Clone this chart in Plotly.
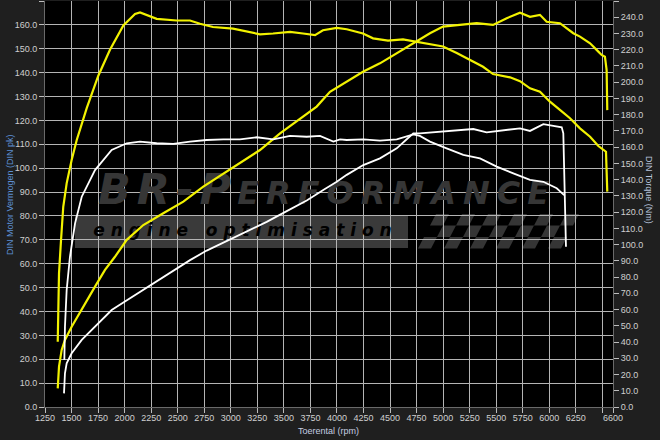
import plotly.graph_objects as go

# ---------------- data ----------------
# Tuned (yellow) power, DIN pk (left axis)
rpm_power_tuned = [1370, 1382, 1407, 1438, 1501, 1596, 1721, 1815, 1909, 2020, 2176, 2364, 2553, 2741,
                   2961, 3150, 3275, 3464, 3652, 3809, 3934, 4092, 4245, 4405, 4563, 4735, 4876, 4999,
                   5187, 5316, 5470, 5599, 5724, 5818, 5912, 5975, 6100, 6226, 6289, 6384, 6462, 6493,
                   6524, 6540, 6546]
power_tuned = [7.8, 16.9, 23.9, 28.1, 33.6, 40.6, 50.4, 57.4, 62.9, 70.0, 76.2, 81.1, 86.0, 92.3,
               98.5, 104.1, 107.6, 114.6, 120.9, 125.8, 132.0, 136.2, 140.4, 143.9, 148.1, 153.0, 156.5, 159.3,
               160.0, 160.7, 160.0, 162.8, 165.1, 163.4, 164.2, 161.3, 160.7, 156.5, 155.1, 152.3, 148.8, 147.4,
               146.7, 141.1, 124.3]

# Tuned (yellow) torque, Nm (right axis)
rpm_torque_tuned = [1370, 1375, 1382, 1401, 1422, 1454, 1501, 1549, 1643, 1752, 1862, 1988, 2098, 2145,
                    2302, 2490, 2616, 2710, 2832, 3021, 3150, 3275, 3398, 3558, 3680, 3793, 3868, 3998,
                    4092, 4245, 4340, 4481, 4622, 4751, 4876, 4999, 5128, 5255, 5376, 5470, 5630, 5724,
                    5818, 5912, 6006, 6100, 6195, 6289, 6384, 6462, 6493, 6534, 6546]
torque_tuned = [40.2, 61.8, 82.3, 102.8, 123.3, 137.7, 152.1, 164.4, 184.0, 204.0, 220.0, 235.0, 242.0, 243.0,
                239.0, 238.0, 238.0, 236.0, 234.0, 233.0, 231.0, 229.5, 230.0, 231.0, 230.0, 229.0, 232.0, 233.5,
                232.6, 230.0, 227.0, 225.6, 226.4, 225.0, 223.5, 222.0, 218.0, 213.7, 209.5, 205.0, 203.0, 200.6,
                196.2, 194.1, 188.0, 182.9, 177.8, 171.6, 166.4, 160.7, 159.3, 157.2, 132.6]

# Stock (white) power, DIN pk (left axis)
rpm_power_stock = [1429, 1438, 1454, 1501, 1596, 1721, 1878, 1988, 2145, 2302, 2458, 2616, 2773, 2961,
                   3150, 3338, 3527, 3715, 3871, 3998, 4092, 4248, 4405, 4563, 4657, 4719, 4781, 4876,
                   5033, 5190, 5284, 5410, 5567, 5724, 5818, 5944, 6038, 6117, 6132, 6145, 6157]
power_stock = [5.7, 14.1, 18.3, 22.5, 28.1, 33.6, 40.6, 43.8, 48.2, 52.5, 57.0, 61.5, 65.5, 69.5,
               73.5, 77.5, 82.0, 86.5, 90.9, 94.3, 97.2, 101.3, 104.1, 108.3, 112.1, 114.6, 114.6, 114.9,
               115.7, 116.0, 116.4, 115.0, 115.7, 116.7, 115.6, 118.4, 117.7, 117.1, 114.6, 90.0, 67.1]

# Stock (white) torque, Nm (right axis)
rpm_torque_stock = [1432, 1438, 1454, 1485, 1533, 1596, 1721, 1878, 2020, 2145, 2302, 2458, 2616, 2773,
                    2929, 3087, 3244, 3400, 3558, 3715, 3840, 3966, 4029, 4092, 4248, 4405, 4563, 4719,
                    4781, 4876, 5033, 5190, 5347, 5505, 5661, 5818, 5944, 6070, 6140]
torque_stock = [28.9, 49.4, 72.0, 92.5, 113.1, 129.5, 145.9, 158.3, 162.4, 163.4, 162.4, 162.0, 163.4, 164.4,
                164.8, 164.8, 166.1, 164.8, 166.9, 166.4, 166.9, 163.4, 164.8, 164.4, 164.8, 164.0, 164.8, 167.9,
                166.9, 163.4, 159.3, 155.2, 153.1, 148.0, 143.9, 139.8, 138.7, 134.7, 130.5]

# Axis ticks
x_tick_values = [1250, 1500, 1750, 2000, 2250, 2500, 2750, 3000, 3250, 3500, 3750, 4000, 4250, 4500,
                 4750, 5000, 5250, 5500, 5750, 6000, 6250, 6500, 6600]
x_tick_labels = ["1250", "1500", "1750", "2000", "2250", "2500", "2750", "3000", "3250", "3500", "3750",
                 "4000", "4250", "4500", "4750", "5000", "5250", "5500", "5750", "6000", "6250", "", "6600"]

YELLOW = "#f2f200"
WHITE = "#ffffff"
FONT = "Liberation Sans, Arial, sans-serif"
TICK_FONT = dict(family=FONT, size=9, color="#cfcfcf")

fig = go.Figure()

# watermark text (drawn first so the curves pass over it)
fig.add_trace(go.Scatter(
    x=[3906], y=[89.5], mode="text",
    text=["<span style='letter-spacing:6px'>BR-P</span>"
          "<span style='font-size:32px;letter-spacing:7px'>ERFORMANCE</span>"],
    hoverinfo="skip", showlegend=False,
    textfont=dict(family="DejaVu Sans", size=43, color="#363636", weight="bold", style="italic")))
fig.add_trace(go.Scatter(
    x=[3110], y=[73.3], mode="text",
    text=["e n g i n e   o p t i m i s a t i o n"], hoverinfo="skip", showlegend=False,
    textfont=dict(family="DejaVu Sans", size=17, color="#000000", weight="bold", style="italic")))

# curves
fig.add_trace(go.Scatter(x=rpm_torque_stock, y=torque_stock, yaxis="y2", mode="lines",
                         line=dict(color=WHITE, width=1.8), showlegend=False))
fig.add_trace(go.Scatter(x=rpm_power_stock, y=power_stock, mode="lines",
                         line=dict(color=WHITE, width=1.8), showlegend=False))
fig.add_trace(go.Scatter(x=rpm_torque_tuned, y=torque_tuned, yaxis="y2", mode="lines",
                         line=dict(color=YELLOW, width=2.2), showlegend=False))
fig.add_trace(go.Scatter(x=rpm_power_tuned, y=power_tuned, mode="lines",
                         line=dict(color=YELLOW, width=2.2), showlegend=False))

# watermark band + checkered flag (paper coordinates of the plot area)
PW, PH, X0, Y0 = 568.0, 406.0, 45.0, 407.0
def px(xp):
    return (xp - X0) / PW
def py(yp):
    return (Y0 - yp) / PH

shapes = [dict(type="rect", xref="paper", yref="paper", x0=px(75), x1=px(408), y0=py(248), y1=py(215),
               fillcolor="#3a3a3a", line=dict(width=0), layer="below")]
cw, ch, skew = 13.0, 11.5, 6.0
for r in range(3):
    ytop = 214 + r * ch
    ybot = ytop + ch
    shift = (2 - r) * skew
    for c in range(11):
        if (r + c) % 2 == 0:
            xl = 418 + c * cw + shift
            path = "M {a},{b} L {c},{d} L {e},{f} L {g},{h} Z".format(
                a=px(xl), b=py(ybot), c=px(xl + cw), d=py(ybot),
                e=px(xl + cw + skew), f=py(ytop), g=px(xl + skew), h=py(ytop))
            shapes.append(dict(type="path", xref="paper", yref="paper", path=path,
                               fillcolor="#353535", line=dict(width=0), layer="below"))

fig.update_layout(
    width=660, height=440,
    margin=dict(l=45, r=47, t=1, b=33, autoexpand=False),
    paper_bgcolor="#1f1f1f",
    plot_bgcolor="#000000",
    showlegend=False,
    shapes=shapes,
    xaxis=dict(range=[1250, 6600], tickmode="array", tickvals=x_tick_values, ticktext=x_tick_labels,
               showgrid=True, gridcolor="#b4b4b4", gridwidth=1, zeroline=False, automargin=False,
               ticks="outside", ticklen=5, tickcolor="#bdbdbd", tickfont=TICK_FONT,
               ticklabelstandoff=-3, showline=True, linecolor="#6a6a6a"),
    yaxis=dict(range=[0, 170], dtick=10, tick0=0, tickformat=".1f", automargin=False,
               showgrid=True, gridcolor="#b4b4b4", gridwidth=1, zeroline=False,
               ticks="outside", ticklen=5, tickcolor="#bdbdbd", tickfont=TICK_FONT,
               showline=True, linecolor="#6a6a6a"),
    yaxis2=dict(range=[0, 250], dtick=10, tick0=0, tickformat=".1f", overlaying="y", side="right",
                showgrid=False, zeroline=False, ticks="outside", ticklen=5, tickcolor="#bdbdbd",
                automargin=False, tickfont=TICK_FONT, showline=True, linecolor="#6a6a6a"),
    annotations=[
        dict(text="DIN Motor Vermogen (DIN pk)", xref="paper", yref="paper", x=px(10), y=py(195),
             xanchor="center", yanchor="middle",
             textangle=-90, showarrow=False, font=dict(family=FONT, size=9, color="#5d8fd3")),
        dict(text="DIN Torque (Nm)", xref="paper", yref="paper", x=px(649), y=py(190),
             xanchor="center", yanchor="middle",
             textangle=90, showarrow=False, font=dict(family=FONT, size=9, color="#b7c4dc")),
        dict(text="Toerental (rpm)", xref="paper", yref="paper", x=px(328), y=py(431),
             xanchor="center", yanchor="middle",
             showarrow=False, font=dict(family=FONT, size=9, color="#c4cde0")),
    ],
)

fig.write_html("out.html", config={"displayModeBar": False},
               post_script="document.body.style.margin='0';document.body.style.background='#1f1f1f';")
